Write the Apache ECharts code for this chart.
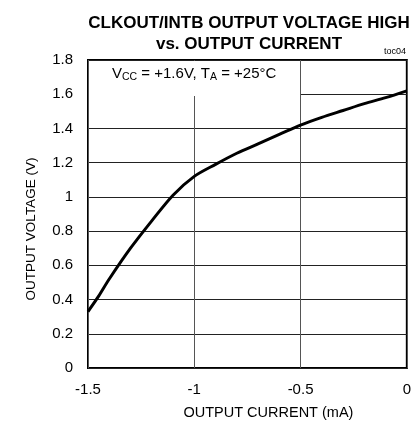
<!DOCTYPE html>
<html>
<head>
<meta charset="utf-8">
<script src="https://cdn.jsdelivr.net/npm/echarts@6/dist/echarts.min.js"></script>
<style>
  html, body { margin: 0; padding: 0; background: #fff; }
  #main { width: 414px; height: 427px; }
</style>
</head>
<body>
<div id="main"></div>
<script>
// output current (mA) and output voltage (V)
var currentMA = [-1.5, -1.45, -1.4, -1.3, -1.2, -1.1, -1.0, -0.9, -0.8, -0.7, -0.6, -0.5, -0.4, -0.3, -0.2, -0.1, 0];
var voltageV = [0.33, 0.42, 0.52, 0.70, 0.86, 1.01, 1.12, 1.19, 1.255, 1.31, 1.365, 1.42, 1.465, 1.505, 1.545, 1.58, 1.62];

var font = 'Liberation Sans, Arial, sans-serif';

var myChart = echarts.init(document.getElementById('main'));
myChart.setOption({
    animation: false,
    title: {
        text: 'CLKOUT/INTB OUTPUT VOLTAGE HIGH\nvs. OUTPUT CURRENT',
        left: 244,
        top: 8,
        textAlign: 'center',
        textStyle: { fontFamily: font, fontSize: 17, fontWeight: 'bold', color: '#000', lineHeight: 21 }
    },
    grid: {
        left: 88, top: 60, right: 7, bottom: 59,
        show: true, borderColor: '#000', borderWidth: 2, backgroundColor: 'transparent'
    },
    xAxis: {
        type: 'value', min: -1.5, max: 0, interval: 0.5,
        name: 'OUTPUT CURRENT (mA)', nameLocation: 'middle', nameGap: 37,
        nameTextStyle: { fontFamily: font, fontSize: 14.5, color: '#000', padding: [0, 0, 0, 42] },
        axisLine: { show: false }, axisTick: { show: false },
        axisLabel: { fontFamily: font, fontSize: 15, color: '#000', margin: 14 },
        splitLine: { lineStyle: { color: '#555', width: 1 } }
    },
    yAxis: {
        type: 'value', min: 0, max: 1.8, interval: 0.2,
        name: 'OUTPUT VOLTAGE (V)', nameLocation: 'middle', nameGap: 50,
        nameTextStyle: { fontFamily: font, fontSize: 13.5, color: '#000', padding: [0, 30, 0, 0] },
        axisLine: { show: false }, axisTick: { show: false },
        axisLabel: { fontFamily: font, fontSize: 15, color: '#000', margin: 15 },
        splitLine: { lineStyle: { color: '#222', width: 1 } }
    },
    graphic: [
        { type: 'rect', z: 10, shape: { x: 89, y: 61, width: 211, height: 35 }, style: { fill: '#fff' } },
        {
            type: 'text', z: 11, left: 112, top: 66,
            style: {
                text: '{n|V}{s|CC}{n| = +1.6V, T}{s|A}{n| = +25°C}',
                rich: {
                    n: { fontFamily: font, fontSize: 15, fill: '#000' },
                    s: { fontFamily: font, fontSize: 10.5, fill: '#000', padding: [8, 0, 0, 0] }
                }
            }
        },
        { type: 'text', z: 11, right: 8, top: 47, style: { text: 'toc04', fontFamily: font, fontSize: 9, fill: '#000' } }
    ],
    series: [{
        type: 'line',
        data: currentMA.map(function (x, i) { return [x, voltageV[i]]; }),
        smooth: 0.3,
        showSymbol: false,
        lineStyle: { color: '#000', width: 3 },
        z: 5
    }]
});
</script>
</body>
</html>
